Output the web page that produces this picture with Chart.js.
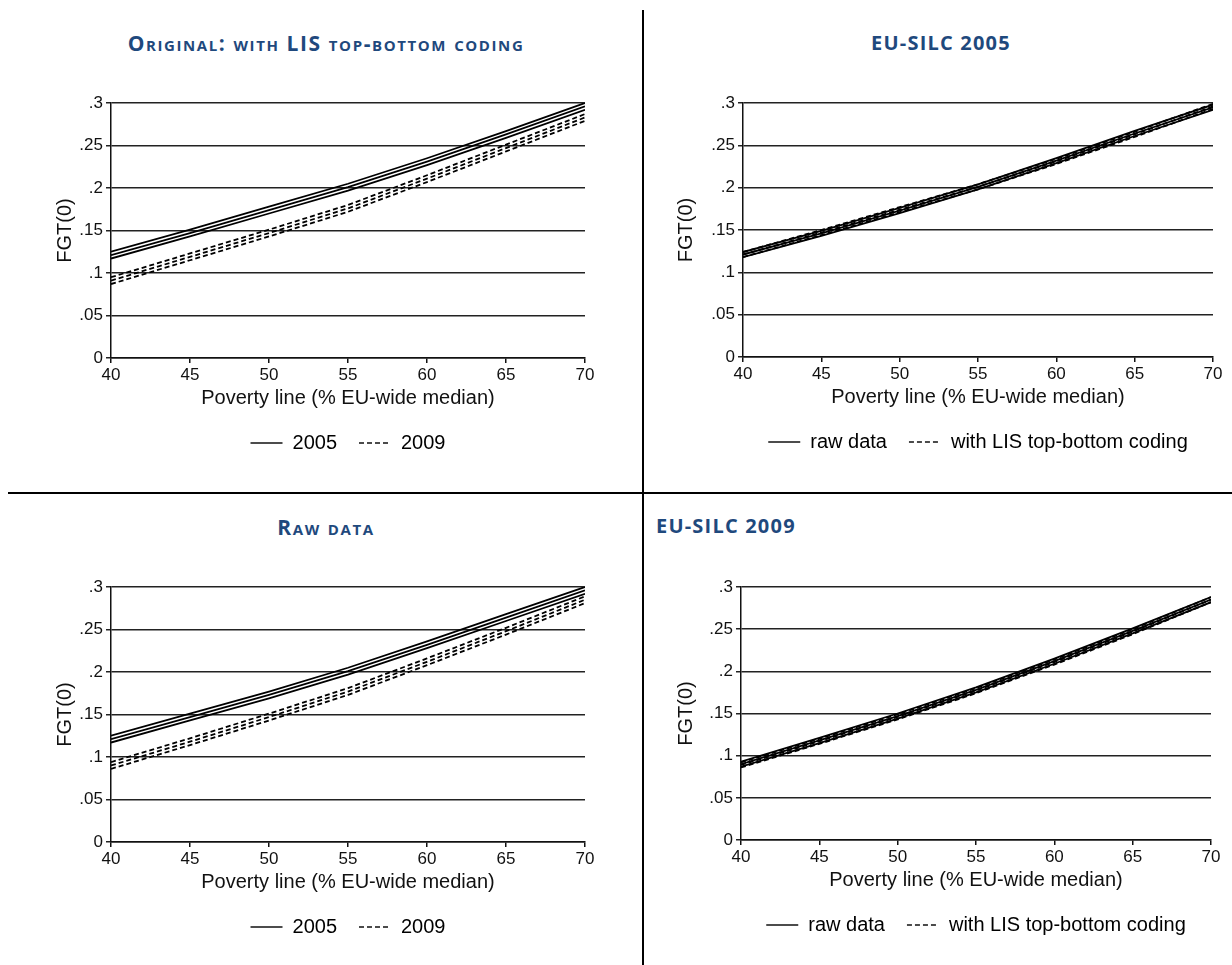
<!DOCTYPE html>
<html>
<head>
<meta charset="utf-8">
<script src="https://cdn.jsdelivr.net/npm/chart.js@4.4.0/dist/chart.umd.min.js"></script>
<style>
  body { margin: 0; background: #fff; width: 1232px; height: 965px; position: relative; overflow: hidden; }
  .title { position: absolute; font-family: 'Open Sans', sans-serif; font-weight: 700; color: #1F497D;
           font-size: 20px; letter-spacing: 1.2px; white-space: nowrap; line-height: 1; }
  .sc { font-variant: small-caps; font-size: 21px; letter-spacing: 1.6px; }
  .vline { position: absolute; left: 642px; top: 10px; width: 2px; height: 955px; background: #000; }
  .hline { position: absolute; left: 8px; top: 492px; width: 1224px; height: 2px; background: #000; }
  canvas { position: absolute; }
</style>
</head>
<body>
<div class="vline"></div>
<div class="hline"></div>
<div class="title sc" style="left:326px; top:43px; transform:translate(-50%,-50%)">Original: with LIS top-bottom coding</div>
<div class="title" style="left:941px; top:43px; transform:translate(-50%,-50%)">EU-SILC 2005</div>
<div class="title sc" style="left:326px; top:527px; transform:translate(-50%,-50%)">Raw data</div>
<div class="title" style="left:656px; top:526px; transform:translate(0,-50%)">EU-SILC 2009</div>

<canvas id="c1"></canvas>
<canvas id="c2"></canvas>
<canvas id="c3"></canvas>
<canvas id="c4"></canvas>

<script>
// x values: poverty line (% of EU-wide median)
const povertyLine = [40, 45, 50, 55, 60, 65, 70]
const yTickLabels = ['0', '.05', '.1', '.15', '.2', '.25', '.3']

// Panel 1 - original, with LIS top-bottom coding (estimate + band)
const orig2005 = [0.121, 0.147, 0.174, 0.201, 0.231, 0.263, 0.296]
const orig2005Lo = [0.117, 0.143, 0.170, 0.197, 0.227, 0.259, 0.292]
const orig2005Hi = [0.125, 0.151, 0.178, 0.205, 0.235, 0.267, 0.300]
const orig2009 = [0.091, 0.119, 0.147, 0.176, 0.211, 0.247, 0.283]
const orig2009Lo = [0.087, 0.115, 0.143, 0.172, 0.207, 0.243, 0.279]
const orig2009Hi = [0.095, 0.123, 0.151, 0.180, 0.215, 0.251, 0.287]

// Panel 2 - EU-SILC 2005
const s05Raw = [0.121, 0.146, 0.173, 0.201, 0.232, 0.264, 0.295]
const s05RawLo = [0.118, 0.143, 0.170, 0.198, 0.229, 0.261, 0.292]
const s05RawHi = [0.124, 0.149, 0.176, 0.204, 0.235, 0.267, 0.298]
const s05Lis = [0.121, 0.147, 0.174, 0.201, 0.231, 0.263, 0.296]
const s05LisLo = [0.118, 0.144, 0.171, 0.198, 0.228, 0.260, 0.293]
const s05LisHi = [0.124, 0.150, 0.177, 0.204, 0.234, 0.266, 0.299]

// Panel 3 - raw data
const raw2005 = [0.121, 0.147, 0.173, 0.201, 0.232, 0.264, 0.296]
const raw2005Lo = [0.117, 0.143, 0.169, 0.197, 0.228, 0.260, 0.292]
const raw2005Hi = [0.125, 0.151, 0.177, 0.205, 0.236, 0.268, 0.300]
const raw2009 = [0.090, 0.118, 0.147, 0.177, 0.212, 0.248, 0.285]
const raw2009Lo = [0.086, 0.114, 0.143, 0.173, 0.208, 0.244, 0.281]
const raw2009Hi = [0.094, 0.122, 0.151, 0.181, 0.216, 0.252, 0.289]

// Panel 4 - EU-SILC 2009
const s09Raw = [0.090, 0.118, 0.147, 0.178, 0.212, 0.248, 0.285]
const s09RawLo = [0.087, 0.115, 0.144, 0.175, 0.209, 0.245, 0.282]
const s09RawHi = [0.093, 0.121, 0.150, 0.181, 0.215, 0.251, 0.288]
const s09Lis = [0.089, 0.117, 0.146, 0.177, 0.211, 0.247, 0.285]
const s09LisLo = [0.086, 0.114, 0.143, 0.174, 0.208, 0.244, 0.282]
const s09LisHi = [0.092, 0.120, 0.149, 0.180, 0.214, 0.250, 0.288]

const DASH = [5, 3]
Chart.defaults.font.family = "'Liberation Sans', Arial, sans-serif"
Chart.defaults.color = '#111'

const pts = (arr) => povertyLine.map((x, i) => ({x: x, y: arr[i]}))

const lineSet = (arr, dash) => ({
    data: pts(arr),
    borderColor: '#000',
    borderWidth: 1.8,
    borderDash: dash,
    pointRadius: 0,
    fill: false,
    tension: 0
})

// chart area position on the page + band series + legend entries
const panels = [
    {id: 'c1', left: 111, top: 103, right: 585, bottom: 357, yTitleX: 65,
     groups: [[orig2005Lo, orig2005, orig2005Hi, []], [orig2009Lo, orig2009, orig2009Hi, DASH]],
     legend: ['2005', '2009']},
    {id: 'c2', left: 743, top: 103, right: 1213, bottom: 356, yTitleX: 686,
     groups: [[s05RawLo, s05Raw, s05RawHi, []], [s05LisLo, s05Lis, s05LisHi, DASH]],
     legend: ['raw data', 'with LIS top-bottom coding']},
    {id: 'c3', left: 111, top: 587, right: 585, bottom: 841, yTitleX: 65,
     groups: [[raw2005Lo, raw2005, raw2005Hi, []], [raw2009Lo, raw2009, raw2009Hi, DASH]],
     legend: ['2005', '2009']},
    {id: 'c4', left: 741, top: 587, right: 1211, bottom: 839, yTitleX: 686,
     groups: [[s09RawLo, s09Raw, s09RawHi, []], [s09LisLo, s09Lis, s09LisHi, DASH]],
     legend: ['raw data', 'with LIS top-bottom coding']}
]

const Y_W = 81, PAD_R = 40, PAD_T = 15, X_H = 53

panels.forEach(p => {
    const cv = document.getElementById(p.id)
    const cLeft = p.left - Y_W
    const cTop = p.top - PAD_T
    cv.width = p.right + PAD_R - cLeft
    cv.height = p.bottom - cTop + X_H + 58
    cv.style.left = cLeft + 'px'
    cv.style.top = cTop + 'px'

    const datasets = []
    p.groups.forEach(g => {
        datasets.push(lineSet(g[0], g[3]), lineSet(g[1], g[3]), lineSet(g[2], g[3]))
    })

    new Chart(cv, {
        type: 'line',
        data: {datasets: datasets},
        options: {
            responsive: false,
            animation: false,
            layout: {padding: {left: 0, right: PAD_R, top: PAD_T, bottom: 5}},
            plugins: {
                tooltip: {enabled: false},
                legend: {
                    position: 'bottom',
                    fullSize: false,
                    labels: {
                        usePointStyle: true,
                        pointStyleWidth: 32,
                        padding: 22,
                        color: '#111',
                        font: {size: 20},
                        generateLabels: () => p.legend.map((t, i) => ({
                            text: t,
                            fillStyle: 'transparent',
                            strokeStyle: '#111',
                            lineWidth: 1.5,
                            lineDash: i === 0 ? [] : DASH,
                            pointStyle: 'line',
                            datasetIndex: i * 3
                        }))
                    }
                }
            },
            scales: {
                x: {
                    type: 'linear',
                    min: 40,
                    max: 70,
                    ticks: {stepSize: 5, font: {size: 17}, padding: 2, maxRotation: 0, color: '#111'},
                    grid: {drawOnChartArea: false, drawTicks: true, tickLength: 5, color: '#111', lineWidth: 1.5},
                    border: {display: true, color: '#111', width: 1.5},
                    title: {display: true, text: 'Poverty line (% EU-wide median)', color: '#111',
                            font: {size: 20}, padding: {top: 0, bottom: 1}},
                    afterFit: s => { s.height = X_H }
                },
                y: {
                    min: 0,
                    max: 0.3,
                    ticks: {stepSize: 0.05, font: {size: 17}, padding: 3, color: '#111',
                            callback: (v, i) => yTickLabels[i]},
                    grid: {color: '#222', lineWidth: 1.5, tickLength: 5},
                    border: {display: true, color: '#111', width: 1.5},
                    title: {display: true, text: 'FGT(0)', color: '#111', font: {size: 20},
                            padding: {top: p.yTitleX - cLeft - 12, bottom: 0}},
                    afterFit: s => { s.width = Y_W }
                }
            }
        }
    })
})
</script>
</body>
</html>
